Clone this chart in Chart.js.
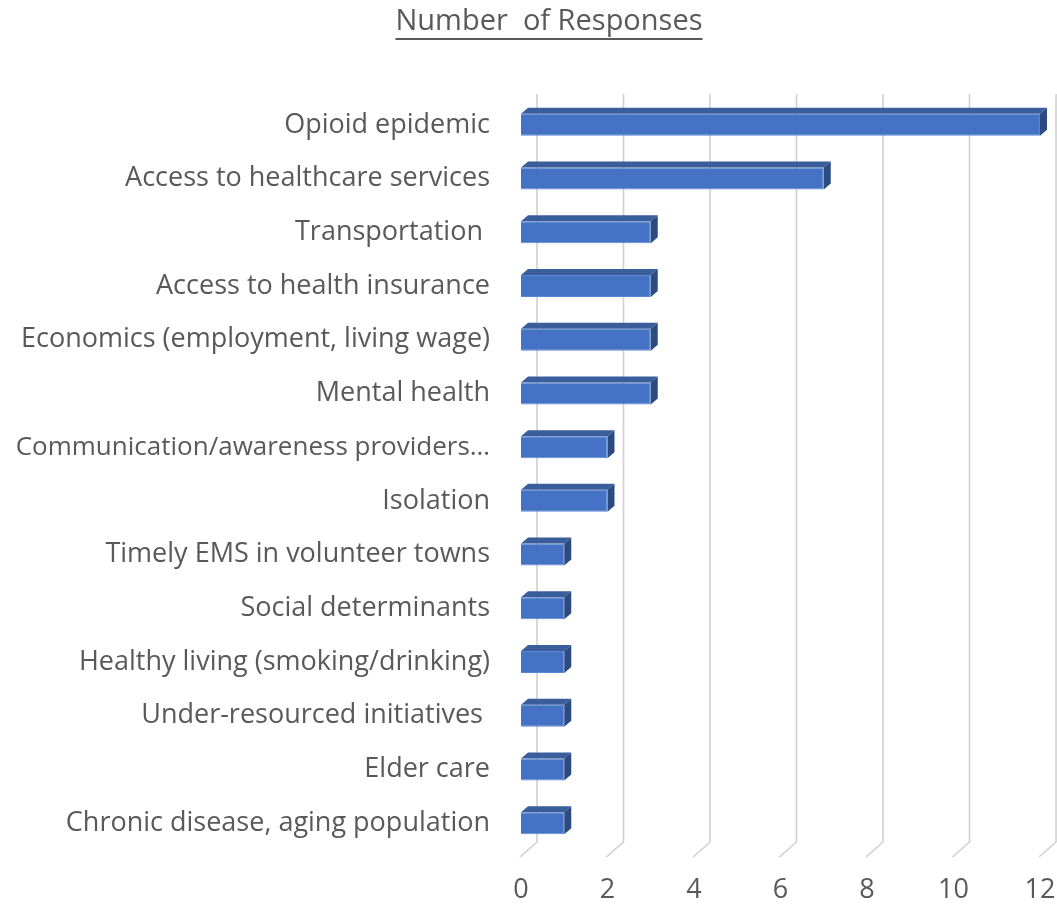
<!DOCTYPE html>
<html lang="en">
<head>
    <meta charset="UTF-8">
    <title>Number of Responses</title>
    <script src="https://cdn.jsdelivr.net/npm/chart.js"></script>
    <style>
        html, body {
            margin: 0;
            padding: 0;
            background: #ffffff;
        }

        .wrap {
            width: 1057px;
            height: 905px;
            position: relative;
        }
    </style>
</head>
<body>
    <div class="wrap">
        <canvas id="responsesChart" width="1057" height="905"></canvas>
    </div>

    <script>
        // Chart data
        const chartTitle = 'Number  of Responses';
        const categories = [
            'Opioid epidemic',
            'Access to healthcare services',
            'Transportation ',
            'Access to health insurance',
            'Economics (employment, living wage)',
            'Mental health',
            'Communication/awareness providers\u2026',
            'Isolation',
            'Timely EMS in volunteer towns',
            'Social determinants',
            'Healthy living (smoking/drinking)',
            'Under-resourced initiatives ',
            'Elder care',
            'Chronic disease, aging population'
        ];
        const responses = [12, 7, 3, 3, 3, 3, 2, 2, 1, 1, 1, 1, 1, 1];
        const xTicks = [0, 2, 4, 6, 8, 10, 12];

        const textColor = '#595959';
        const fontFamily = "'Open Sans', 'Noto Sans', sans-serif";

        // depth of the 3D look
        const barDepth = { dx: 7, dy: 6 };
        const floorDepth = { dx: 16, dy: 15 };

        // Gridlines drawn on the back wall with a slanted floor stub
        const gridPlugin = {
            id: 'grid3d',
            beforeDatasetsDraw(chart) {
                const ctx = chart.ctx;
                const xScale = chart.scales.x;
                const area = chart.chartArea;
                ctx.save();
                ctx.lineWidth = 1.6;
                ctx.strokeStyle = '#d0d0d0';
                xTicks.forEach(v => {
                    const x = xScale.getPixelForValue(v);
                    ctx.beginPath();
                    ctx.moveTo(x + floorDepth.dx, area.top - 4);
                    ctx.lineTo(x + floorDepth.dx, area.bottom - 8);
                    ctx.lineTo(x - 1, area.bottom + floorDepth.dy - 8);
                    ctx.stroke();
                });
                ctx.restore();
            }
        };

        // Top and side faces for each bar
        const barFacesPlugin = {
            id: 'barFaces',
            afterDatasetsDraw(chart) {
                const ctx = chart.ctx;
                const meta = chart.getDatasetMeta(0);
                ctx.save();
                meta.data.forEach(bar => {
                    const p = bar.getProps(['x', 'y', 'base', 'height'], true);
                    const left = p.base;
                    const right = p.x;
                    const top = p.y - p.height / 2;
                    const bottom = p.y + p.height / 2;

                    // top face
                    ctx.fillStyle = '#3a5d9c';
                    ctx.beginPath();
                    ctx.moveTo(left, top);
                    ctx.lineTo(left + barDepth.dx, top - barDepth.dy);
                    ctx.lineTo(right + barDepth.dx, top - barDepth.dy);
                    ctx.lineTo(right, top);
                    ctx.closePath();
                    ctx.fill();

                    // side face
                    ctx.fillStyle = '#2c4b83';
                    ctx.beginPath();
                    ctx.moveTo(right, top);
                    ctx.lineTo(right + barDepth.dx, top - barDepth.dy);
                    ctx.lineTo(right + barDepth.dx, bottom - barDepth.dy);
                    ctx.lineTo(right, bottom);
                    ctx.closePath();
                    ctx.fill();
                });
                ctx.restore();
            }
        };

        // Underlined title
        const titlePlugin = {
            id: 'underlinedTitle',
            afterDraw(chart) {
                const ctx = chart.ctx;
                ctx.save();
                ctx.font = "29px " + fontFamily;
                ctx.fillStyle = textColor;
                ctx.textAlign = 'center';
                ctx.textBaseline = 'alphabetic';
                const cx = 549;
                const baseY = 30;
                ctx.fillText(chartTitle, cx, baseY);
                const w = ctx.measureText(chartTitle).width;
                ctx.strokeStyle = textColor;
                ctx.lineWidth = 2;
                ctx.beginPath();
                ctx.moveTo(cx - w / 2, baseY + 9);
                ctx.lineTo(cx + w / 2, baseY + 9);
                ctx.stroke();
                ctx.restore();
            }
        };

        const ctx = document.getElementById('responsesChart').getContext('2d');

        const responsesChart = new Chart(ctx, {
            type: 'bar',
            data: {
                labels: categories,
                datasets: [{
                    label: 'Number of Responses',
                    data: responses,
                    backgroundColor: '#4472c4',
                    borderColor: '#5b86d1',
                    borderWidth: 1,
                    categoryPercentage: 0.41,
                    barPercentage: 1
                }]
            },
            options: {
                indexAxis: 'y',
                responsive: false,
                animation: false,
                layout: {
                    padding: { top: 98, right: 0, bottom: 0, left: 0 }
                },
                plugins: {
                    legend: { display: false },
                    title: { display: false },
                    tooltip: { enabled: false }
                },
                scales: {
                    x: {
                        min: 0,
                        max: 12,
                        afterBuildTicks(scale) {
                            scale.ticks = xTicks.map(v => ({ value: v }));
                        },
                        afterFit(scale) {
                            scale.height = 55;
                            scale.paddingLeft = 0;
                            scale.paddingRight = 17;
                        },
                        grid: { display: false, drawTicks: false },
                        border: { display: false },
                        ticks: {
                            color: textColor,
                            padding: 24,
                            font: { size: 27, family: fontFamily }
                        }
                    },
                    y: {
                        afterFit(scale) {
                            scale.width = 521;
                        },
                        grid: { display: false, drawTicks: false },
                        border: { display: false },
                        ticks: {
                            color: textColor,
                            padding: 31,
                            autoSkip: false,
                            // the long truncated label is set a touch smaller so it fits
                            font: (c) => ({
                                size: c.index === 6 ? 26 : 27,
                                family: fontFamily
                            })
                        }
                    }
                }
            },
            plugins: [gridPlugin, barFacesPlugin, titlePlugin]
        });
    </script>
</body>
</html>
